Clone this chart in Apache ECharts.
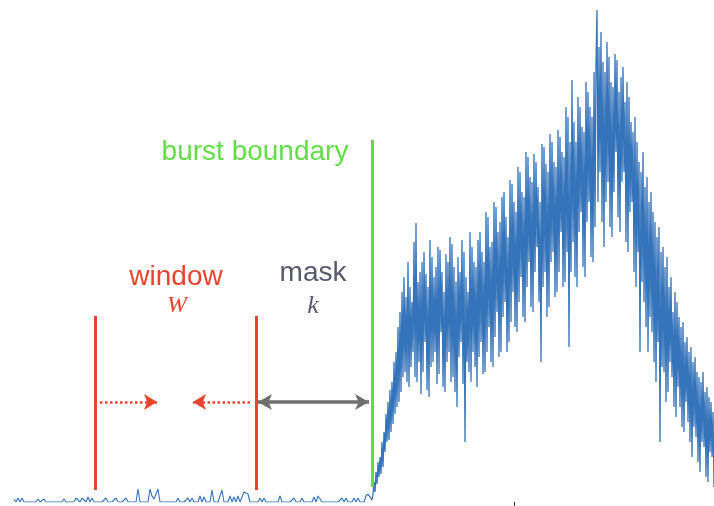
<!DOCTYPE html>
<html>
<head>
<meta charset="utf-8">
<script src="https://cdn.jsdelivr.net/npm/echarts@6/dist/echarts.min.js"></script>
<style>html,body{margin:0;padding:0;background:#fff}#c{width:714px;height:506px}</style>
</head>
<body>
<div id="c"></div>
<script>
// sampling of the two parts of the trace (time units)
const quietStep = 2;
const burstStart = 358;
const burstStep = 1;
// quiet (pre-burst) counts
const quietCounts = [
  3,0,4,0,4,0,0,0,0,0, 0,0,3,0,0,3,0,0,0,0, 0,0,0,0,0,3,0,0,0,0,
  0,4,5,0,4,4,0,5,0,4, 0,0,0,0,0,0,4,0,0,0, 0,4,0,0,0,0,4,0,0,0,
  0,0,13,0,0,0,0,0,13,6, 3,8,13,0,0,0,0,0,0,0, 0,0,4,0,0,0,0,4,0,4,
  0,0,0,6,0,5,0,0,0,12, 0,0,0,0,12,0,0,0,6,0, 5,0,6,0,0,10,12,8,0,0,
  0,0,0,4,0,4,0,0,0,0, 0,0,0,6,0,0,0,0,0,0, 4,0,0,0,4,0,0,0,0,0,
  5,0,6,4,0,0,0,0,0,0, 0,0,0,0,4,0,4,0,0,0, 4,0,4,0,0,0,6,8
];
// burst counts
const burstCounts = [
  2,8,20,10, 30,18,40,25, 45,28,60,35, 70,50,88,60, 100,62,112,70,
  120,78,140,88, 150,95,175,100, 190,110,210,125, 225,130,205,120, 240,115,215,135,
  200,150,260,125, 279,120,220,140, 230,108,240,130, 250,160,228,112, 215,105,262,135,
  245,140,225,150, 235,118,255,128, 252,170,230,115, 210,110,248,140, 240,150,265,120,
  258,125,235,110, 220,95,245,145, 230,160,262,118, 250,60,225,140, 210,130,270,120,
  255,150,240,135, 235,115,262,145, 270,160,250,128, 240,130,290,150, 285,175,255,140,
  260,135,300,165, 295,190,270,145, 280,150,305,185, 310,200,285,150, 265,160,322,180,
  318,210,300,175, 290,170,335,200, 330,225,310,185, 305,180,350,215, 345,240,325,195,
  320,190,348,230, 340,255,315,200, 300,140,358,215, 355,230,338,185, 330,195,368,240,
  360,250,340,205, 335,210,372,230, 365,270,350,215, 345,220,395,250, 385,155,360,230,
  422,260,380,225, 360,215,405,270, 395,290,375,235, 370,225,420,280, 410,300,395,245,
  385,240,430,275, 440,492,300,455, 330,470,280,440, 255,430,300,460, 320,445,275,420,
  265,415,310,448, 350,442,285,410, 270,425,320,435, 330,400,260,420, 250,405,290,380,
  300,370,230,385, 215,360,250,340, 150,330,220,350, 200,315,175,325, 150,300,185,310,
  170,290,140,280, 120,265,160,275, 60,250,135,255, 130,235,100,245, 110,215,140,225,
  125,190,95,210, 85,200,115,185, 95,175,75,180, 70,160,100,165, 80,150,60,155,
  45,140,75,145, 65,130,40,125, 30,120,60,130, 55,110,25,115, 20,105,50,100,
  45,90,15
];
// annotation positions (data units)
const windowStart = 81, windowEnd = 242, burstBoundary = 358;
const lineLevel = 100;

const quietData = quietCounts.map((v, i) => [i * quietStep, v]);
const burstData = [quietData[quietData.length - 1]]
  .concat(burstCounts.map((v, j) => [burstStart + j * burstStep, v]));

const RED = '#e8432d', GREEN = '#62dd47', GRAY = '#6e6e6e', SLATE = '#5a5a6e';
const BLUE = '#3573ba';

const chart = echarts.init(document.getElementById('c'), null, {renderer: 'canvas'});
chart.setOption({
  animation: false,
  backgroundColor: '#fff',
  grid: {left: 14, right: 0, top: 2, bottom: 4},
  xAxis: {
    type: 'value', min: 0, max: 700,
    axisLine: {show: false}, splitLine: {show: false}, axisLabel: {show: false},
    axisTick: {show: true, customValues: [500], length: 4, lineStyle: {color: '#333', width: 1}}
  },
  yAxis: {type: 'value', min: 0, max: 500, show: false},
  series: [
    {
      type: 'line', data: quietData, showSymbol: false, symbol: 'none',
      sampling: null, lineStyle: {color: BLUE, width: 1.1}, z: 2
    },
    {
      type: 'line', data: burstData, showSymbol: false, symbol: 'none',
      sampling: null, lineStyle: {color: BLUE, width: 1.3}, z: 2
    },
    {
      type: 'line', data: [], silent: true,
      markLine: {
        silent: true, animation: false, label: {show: false},
        data: [
          [{coord: [windowStart, 12], symbol: 'none'}, {coord: [windowStart, 186], symbol: 'none', lineStyle: {color: RED, width: 3, type: 'solid'}}],
          [{coord: [windowEnd, 12], symbol: 'none'}, {coord: [windowEnd, 186], symbol: 'none', lineStyle: {color: RED, width: 3, type: 'solid'}}],
          [{coord: [burstBoundary, 15], symbol: 'none'}, {coord: [burstBoundary, 362], symbol: 'none', lineStyle: {color: GREEN, width: 3, type: 'solid'}}],
          [{coord: [86, lineLevel], symbol: 'none'}, {coord: [143, lineLevel], symbol: 'arrow', symbolSize: [12, 13], lineStyle: {color: RED, width: 2.5, type: [2.5, 2.5]}}],
          [{coord: [236, lineLevel], symbol: 'none'}, {coord: [179, lineLevel], symbol: 'arrow', symbolSize: [12, 13], lineStyle: {color: RED, width: 2.5, type: [2.5, 2.5]}}],
          [{coord: [244, lineLevel], symbol: 'arrow', symbolSize: [12, 14]}, {coord: [355, lineLevel], symbol: 'arrow', symbolSize: [12, 14], lineStyle: {color: GRAY, width: 3.5, type: 'solid'}}]
        ]
      },
      z: 3
    }
  ],
  graphic: [
    {type: 'text', x: 255, y: 152, style: {text: 'burst boundary', fill: GREEN, font: '28px "Liberation Sans", Arial, sans-serif', textAlign: 'center', textVerticalAlign: 'middle'}},
    {type: 'text', x: 176, y: 277, style: {text: 'window', fill: RED, font: '28px "Liberation Sans", Arial, sans-serif', textAlign: 'center', textVerticalAlign: 'middle'}},
    {type: 'text', x: 177, y: 306, style: {text: 'W', fill: RED, font: 'italic 24px "Liberation Serif", "Times New Roman", serif', textAlign: 'center', textVerticalAlign: 'middle'}},
    {type: 'text', x: 313, y: 273, style: {text: 'mask', fill: SLATE, font: '28px "Liberation Sans", Arial, sans-serif', textAlign: 'center', textVerticalAlign: 'middle'}},
    {type: 'text', x: 313, y: 306, style: {text: 'k', fill: SLATE, font: 'italic 26px "Liberation Serif", "Times New Roman", serif', textAlign: 'center', textVerticalAlign: 'middle'}}
  ]
});
</script>
</body>
</html>
